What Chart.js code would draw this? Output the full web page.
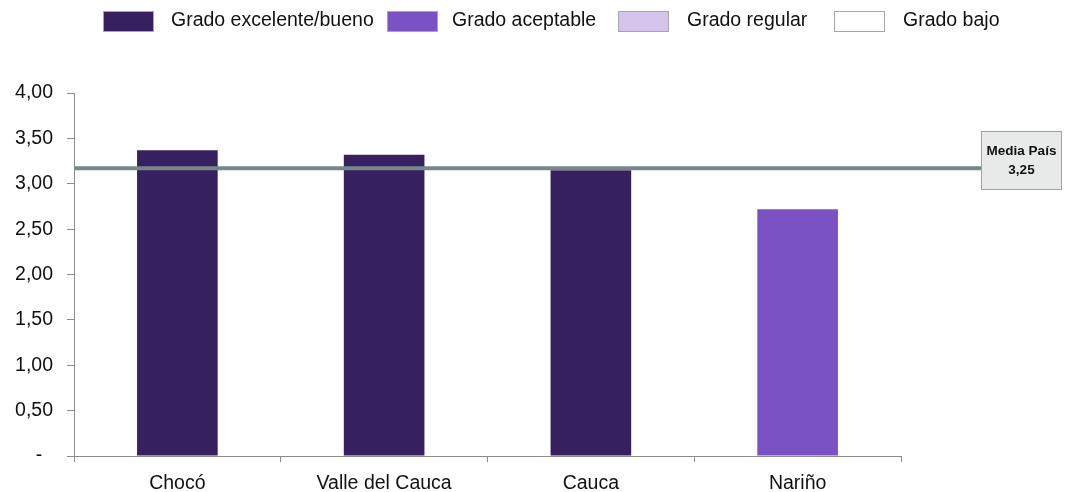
<!DOCTYPE html>
<html>
<head>
<meta charset="utf-8">
<script src="https://cdn.jsdelivr.net/npm/chart.js@4/dist/chart.umd.min.js"></script>
<style>
  html, body { margin: 0; padding: 0; background: #fff; }
  #wrap { position: relative; width: 1078px; height: 492px; font-family: 'Liberation Sans', Arial, sans-serif; }
  #legend { position: absolute; left: 0; top: 0; width: 1078px; height: 40px; }
  .lg-box { position: absolute; top: 11px; width: 49px; height: 19px; border: 1px solid #a6a6a6; }
  .lg-txt { position: absolute; top: 8px; font-size: 19.5px; line-height: 22px; color: #111; white-space: nowrap; }
</style>
</head>
<body>
<div id="wrap">
  <canvas id="chart" width="1078" height="492"></canvas>
  <div id="legend"></div>
</div>
<script>
// Data
const categories = ['Chocó', 'Valle del Cauca', 'Cauca', 'Nariño'];
const values = [3.37, 3.32, 3.15, 2.72];
const grades = ['Grado excelente/bueno', 'Grado excelente/bueno', 'Grado excelente/bueno', 'Grado aceptable'];
const legendLabels = ['Grado excelente/bueno', 'Grado aceptable', 'Grado regular', 'Grado bajo'];
const legendColors = ['#372060', '#7b52c4', '#d3c6ea', '#ffffff'];
const meanLine = 3.17;
const meanLabel = ['Media País', '3,25'];
const yTicks = [0, 0.5, 1, 1.5, 2, 2.5, 3, 3.5, 4];

// Legend (HTML, fixed spots like the original)
const legendPos = [[103, 171], [387, 452], [618, 687], [834, 903]];
const legendEl = document.getElementById('legend');
legendLabels.forEach((lab, i) => {
    const b = document.createElement('div');
    b.className = 'lg-box';
    b.style.left = legendPos[i][0] + 'px';
    b.style.background = legendColors[i];
    legendEl.appendChild(b);
    const t = document.createElement('div');
    t.className = 'lg-txt';
    t.style.left = legendPos[i][1] + 'px';
    t.textContent = lab;
    legendEl.appendChild(t);
});

// Mean line + label box
const meanPlugin = {
    id: 'meanPlugin',
    afterDatasetsDraw(chart) {
        const { ctx, chartArea } = chart;
        const y = chart.scales.y.getPixelForValue(meanLine);
        const boxL = 981, boxR = 1062, boxT = 131, boxB = 190;
        ctx.save();
        ctx.strokeStyle = '#76878b';
        ctx.lineWidth = 4;
        ctx.beginPath();
        ctx.moveTo(chartArea.left, y);
        ctx.lineTo(boxL, y);
        ctx.stroke();

        ctx.fillStyle = '#e8eaea';
        ctx.fillRect(boxL, boxT, boxR - boxL, boxB - boxT);
        ctx.strokeStyle = '#9aa3a5';
        ctx.lineWidth = 1;
        ctx.strokeRect(boxL + 0.5, boxT + 0.5, boxR - boxL - 1, boxB - boxT - 1);

        ctx.fillStyle = '#111';
        ctx.font = "bold 13.5px 'Liberation Sans', Arial, sans-serif";
        ctx.textAlign = 'center';
        ctx.textBaseline = 'middle';
        const cx = (boxL + boxR) / 2;
        ctx.fillText(meanLabel[0], cx, 151);
        ctx.fillText(meanLabel[1], cx, 170);
        ctx.restore();
    }
};

const colorFor = g => legendColors[legendLabels.indexOf(g)];

new Chart(document.getElementById('chart'), {
    type: 'bar',
    data: {
        labels: categories,
        datasets: [{
            data: values,
            backgroundColor: grades.map(colorFor),
            borderWidth: 0,
            barPercentage: 0.78,
            categoryPercentage: 0.5
        }]
    },
    options: {
        responsive: false,
        animation: false,
        layout: { padding: { left: 0, top: 93, right: 177, bottom: 0 } },
        plugins: { legend: { display: false }, tooltip: { enabled: false } },
        scales: {
            x: {
                offset: true,
                grid: { offset: true, drawOnChartArea: false, drawTicks: true, tickLength: 6, color: '#8c8c8c' },
                border: { color: '#8c8c8c' },
                ticks: {
                    color: '#111',
                    padding: 10,
                    maxRotation: 0,
                    font: { family: "'Liberation Sans', Arial, sans-serif", size: 19.5 }
                },
                afterFit: s => { s.height = 36; }
            },
            y: {
                min: 0,
                max: 4,
                afterBuildTicks: s => { s.ticks = yTicks.map(v => ({ value: v })); },
                grid: { drawOnChartArea: false, drawTicks: true, tickLength: 7, color: '#8c8c8c' },
                border: { color: '#8c8c8c' },
                ticks: {
                    color: '#111',
                    padding: 14,
                    font: { family: "'Liberation Sans', Arial, sans-serif", size: 19.5 },
                    callback: v => v === 0 ? '-  ' : v.toFixed(2).replace('.', ',')
                },
                afterFit: s => { s.width = 74; }
            }
        }
    },
    plugins: [meanPlugin]
});
</script>
</body>
</html>
